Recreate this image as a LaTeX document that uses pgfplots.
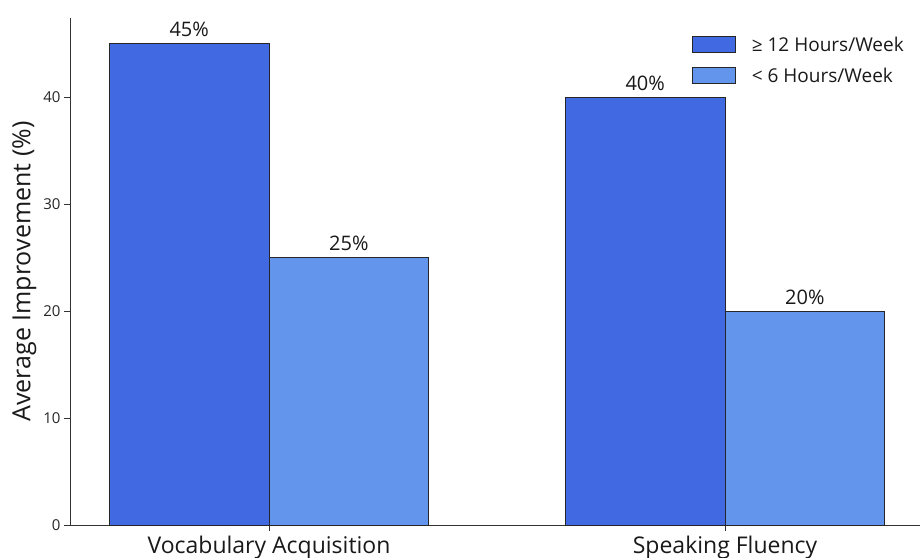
\documentclass[border=0pt]{standalone}
\usepackage{fontspec}
\setmainfont{Open Sans}
\usepackage{pgfplots}
\pgfplotsset{compat=1.18}
\usetikzlibrary{calc}
\definecolor{royal}{HTML}{4169E1}
\definecolor{cornflower}{HTML}{6495ED}
\definecolor{edge}{HTML}{262626}
\begin{document}
\begin{tikzpicture}
\begin{axis}[
  name=ax,
  scale only axis,
  width=850pt, height=507pt,
  xmin=-0.4364, xmax=1.4276,
  ymin=0, ymax=47.4,
  axis lines=left,
  axis line style={-, draw=black!80, line width=0.8pt},
  x axis line style={-},
  y axis line style={-},
  xtick={0,1},
  xticklabels={Vocabulary Acquisition, Speaking Fluency},
  ytick={0,10,20,30,40},
  tick align=outside,
  major tick length=6pt,
  tick style={draw=black!80, line width=0.8pt},
  xticklabel style={font=\fontsize{23}{27}\selectfont, color=black!90, yshift=-1pt},
  yticklabel style={font=\fontsize{15}{18}\selectfont, color=black!85},
  /pgf/number format/assume math mode=true,
  ylabel={Average Improvement (\%)},
  every axis y label/.style={at={(ticklabel cs:0.5)}, rotate=90, anchor=near ticklabel,
    font=\fontsize{25}{29}\selectfont, color=black!90},
  ybar=0pt,
  bar width=0.35,
  nodes near coords={\pgfmathprintnumber{\pgfplotspointmeta}\%},
  every node near coord/.append style={font=\fontsize{20}{24}\selectfont, color=black!90, yshift=3pt},
  legend style={draw=none, fill=none, at={(0.987,0.971)}, anchor=north east,
    font=\fontsize{19}{23}\selectfont, row sep=11pt, text=black!90,
    /tikz/every even column/.append style={column sep=4pt}},
  legend cell align=left,
  legend image code/.code={\draw[#1, draw=edge, line width=0.8pt] (0pt,-8pt) rectangle (43pt,8pt);},
  clip=false,
]
\addplot[fill=royal, draw=edge, line width=0.8pt, bar shift=-0.175] coordinates {(0,45) (1,40)};
\addplot[fill=cornflower, draw=edge, line width=0.8pt, bar shift=0.175] coordinates {(0,25) (1,20)};
\legend{\hspace{14pt}≥ 12 Hours/Week, \hspace{14pt}< 6 Hours/Week}
\end{axis}
\pgfresetboundingbox
\path[use as bounding box] ($(ax.south west)+(-70pt,-32pt)$) rectangle ($(ax.north east)+(0pt,18pt)$);
\end{tikzpicture}
\end{document}
